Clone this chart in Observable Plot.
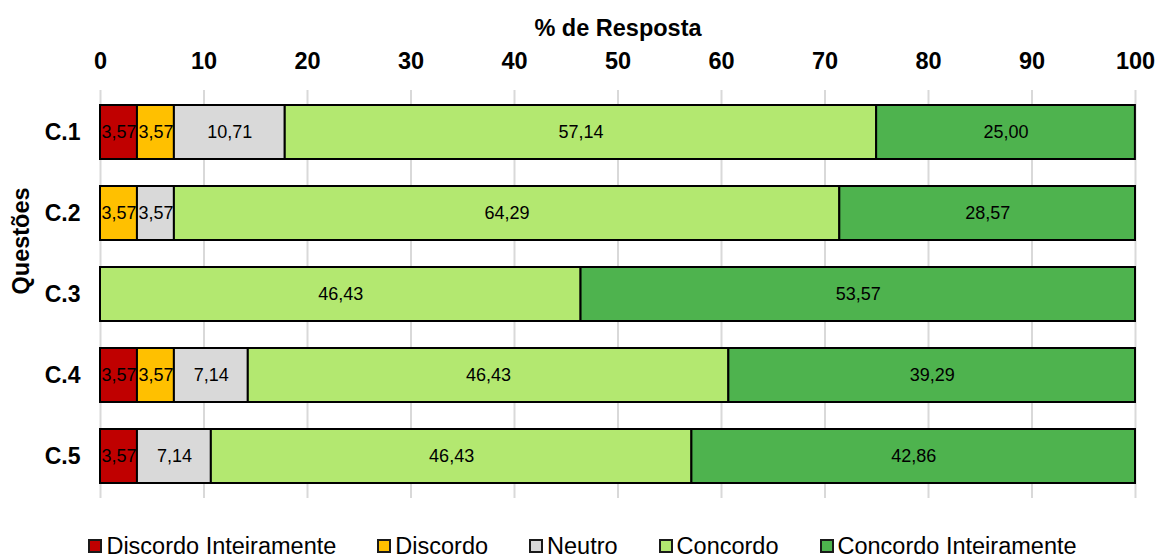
<!DOCTYPE html>
<html>
<head>
<meta charset="utf-8">
<script src="https://cdn.jsdelivr.net/npm/d3@7"></script>
<script src="https://cdn.jsdelivr.net/npm/@observablehq/plot@0.6"></script>
<style>
  html, body { margin: 0; padding: 0; background: #fff; }
  body { width: 1156px; height: 557px; overflow: hidden; font-family: "Liberation Sans", Arial, sans-serif; }
  #legend { display: flex; justify-content: center; gap: 41px; padding-top: 16px; padding-left: 9px; font-size: 23.5px; line-height: 20px; height: 20px; color: #000; }
  .item { display: flex; align-items: center; }
  .sw { width: 10px; height: 10px; border: 2px solid #1a1a1a; margin-right: 4px; }
</style>
</head>
<body>
<div id="chart"></div>
<div id="legend"></div>
<script>
const questions = ["C.1", "C.2", "C.3", "C.4", "C.5"];
const categories = ["Discordo Inteiramente", "Discordo", "Neutro", "Concordo", "Concordo Inteiramente"];
const colors = ["#C00000", "#FFC000", "#D9D9D9", "#B3E870", "#4EB34E"];
const discordoInteiramente = [3.57, 0, 0, 3.57, 3.57];
const discordo = [3.57, 3.57, 0, 3.57, 0];
const neutro = [10.71, 3.57, 0, 7.14, 7.14];
const concordo = [57.14, 64.29, 46.43, 46.43, 46.43];
const concordoInteiramente = [25.00, 28.57, 53.57, 39.29, 42.86];
const xTicks = [0, 10, 20, 30, 40, 50, 60, 70, 80, 90, 100];

const series = [discordoInteiramente, discordo, neutro, concordo, concordoInteiramente];
const data = questions.flatMap((q, i) =>
  categories.map((c, j) => ({q, cat: c, value: series[j][i]}))
).filter(d => d.value > 0);

const fmt = v => v.toFixed(2).replace(".", ",");

const chart = Plot.plot({
  width: 1156,
  height: 520,
  marginLeft: 100,
  marginRight: 21,
  marginTop: 90,
  marginBottom: 22,
  style: {fontFamily: "'Liberation Sans', Arial, sans-serif", background: "#fff"},
  x: {domain: [0, 100]},
  y: {domain: questions, paddingInner: 0.337, paddingOuter: 0.17},
  color: {domain: categories, range: colors},
  marks: [
    Plot.ruleX(xTicks, {stroke: "#d9d9d9", strokeOpacity: 1, strokeWidth: 2}),
    Plot.barX(data, Plot.stackX({y: "q", x: "value", z: "cat", fill: "cat", stroke: "#000", strokeWidth: 2})),
    Plot.text(data, Plot.stackX({y: "q", x: "value", z: "cat", text: d => fmt(d.value), fill: "#000", fontSize: 18})),
    Plot.axisX(xTicks, {anchor: "top", tickSize: 0, tickPadding: 22, fontSize: 23.5, fontWeight: "bold", label: null, fill: "#000"}),
    Plot.axisY({tickSize: 0, tickPadding: 20, fontSize: 23, fontWeight: "bold", label: null, fill: "#000"}),
    Plot.text(["% de Resposta"], {frameAnchor: "top", lineAnchor: "middle", dy: -62, fontSize: 23.5, fontWeight: "bold", fill: "#000"}),
    Plot.text(["Questões"], {frameAnchor: "left", lineAnchor: "middle", dx: -79, rotate: -90, fontSize: 23.5, fontWeight: "bold", fill: "#000"})
  ]
});
document.getElementById("chart").appendChild(chart);

const legend = document.getElementById("legend");
categories.forEach((c, i) => {
  const item = document.createElement("div");
  item.className = "item";
  const sw = document.createElement("span");
  sw.className = "sw";
  sw.style.background = colors[i];
  const t = document.createElement("span");
  t.textContent = c;
  item.appendChild(sw);
  item.appendChild(t);
  legend.appendChild(item);
});
</script>
</body>
</html>
